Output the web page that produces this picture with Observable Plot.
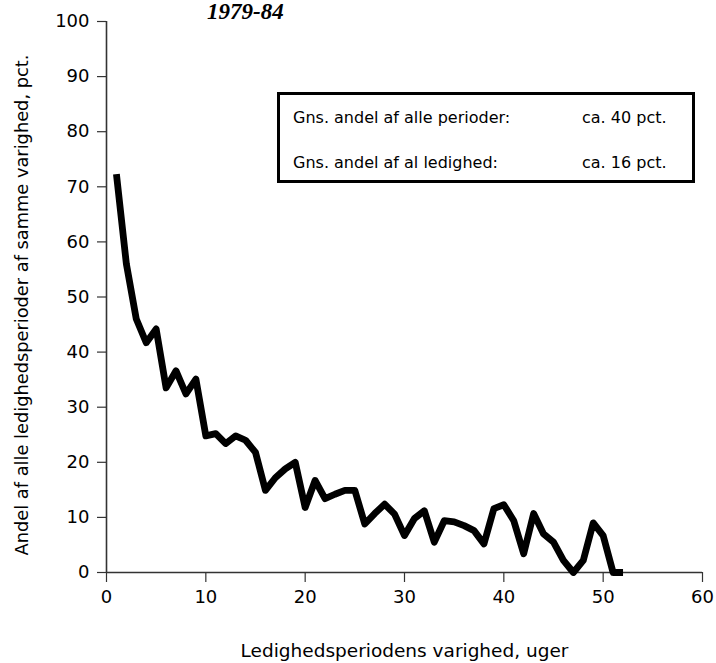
<!DOCTYPE html>
<html>
<head>
<meta charset="utf-8">
<script src="https://cdn.jsdelivr.net/npm/d3@7"></script>
<script src="https://cdn.jsdelivr.net/npm/@observablehq/plot@0.6"></script>
<style>
  html, body { margin: 0; padding: 0; background: #fff; }
  #wrap { position: relative; width: 716px; height: 663px; overflow: hidden; }
  #overlay { position: absolute; left: 0; top: 0; pointer-events: none; }
</style>
</head>
<body>
<div id="wrap"></div>
<script>
// ---- data ----
const title = "1979-84";
const xLabel = "Ledighedsperiodens varighed, uger";
const yLabel = "Andel af alle ledighedsperioder af samme varighed, pct.";
const legendLabels = ["Gns. andel af alle perioder:", "Gns. andel af al ledighed:"];
const legendValues = ["ca. 40 pct.", "ca. 16 pct."];
const xTicks = [0, 10, 20, 30, 40, 50, 60];
const yTicks = [0, 10, 20, 30, 40, 50, 60, 70, 80, 90, 100];
const weeks = [1, 2, 3, 4, 5, 6, 7, 8, 9, 10, 11, 12, 13, 14, 15, 16, 17, 18, 19, 20,
               21, 22, 23, 24, 25, 26, 27, 28, 29, 30, 31, 32, 33, 34, 35, 36, 37, 38, 39, 40,
               41, 42, 43, 44, 45, 46, 47, 48, 49, 50, 51, 52];
const shares = [72.3, 56, 46, 41.7, 44.2, 33.5, 36.6, 32.4, 35.1, 24.8,
                25.2, 23.4, 24.8, 24, 21.8, 14.9, 17.2, 18.8, 20, 11.8,
                16.7, 13.4, 14.2, 14.9, 14.9, 8.8, 10.7, 12.4, 10.6, 6.7,
                9.8, 11.2, 5.5, 9.4, 9.2, 8.5, 7.6, 5.2, 11.6, 12.3,
                9.4, 3.4, 10.7, 7, 5.5, 2.2, 0, 2.2, 9, 6.7,
                0, 0];

const rows = weeks.map((w, i) => ({week: w, share: shares[i]}));

const chart = Plot.plot({
  width: 716,
  height: 663,
  marginLeft: 106,
  marginRight: 14,
  marginTop: 21,
  marginBottom: 91,
  style: {fontFamily: "DejaVu Sans", fontSize: "18px", color: "#000", background: "#fff", overflow: "visible"},
  x: {domain: [0, 60]},
  y: {domain: [0, 100]},
  marks: [
    // ticks
    Plot.axisX({ticks: xTicks, tickSize: 10, tickPadding: 8, stroke: "#333", strokeWidth: 1.2,
                label: null, fontSize: 18}),
    Plot.axisY({ticks: yTicks, tickSize: 9, tickPadding: 8, stroke: "#333", strokeWidth: 1.2,
                label: null, fontSize: 18}),
    // axis titles
    Plot.axisX({ticks: [], tickSize: 0, label: xLabel, labelAnchor: "center", labelOffset: 84,
                labelArrow: false, fontSize: 18.5}),
    Plot.text([yLabel], {frameAnchor: "left", dx: -79, dy: 8, rotate: -90, textAnchor: "middle",
                         lineAnchor: "bottom", fontSize: 17.8, fill: "#000"}),
    Plot.ruleX([0], {stroke: "#333", strokeWidth: 1.6}),
    Plot.ruleY([0], {stroke: "#333", strokeWidth: 1.6}),
    Plot.line(rows, {x: "week", y: "share", stroke: "#000", strokeWidth: 6.8,
                     strokeLinejoin: "round", strokeLinecap: "butt"})
  ]
});

const wrap = document.getElementById("wrap");
wrap.appendChild(chart);

// overlay: title and legend box (annotation)
const svg = d3.select(wrap).append("svg")
  .attr("id", "overlay").attr("width", 716).attr("height", 663);

svg.append("text")
  .attr("x", 207).attr("y", 19)
  .attr("font-family", "Liberation Serif").attr("font-style", "italic").attr("font-weight", "bold")
  .attr("font-size", 23).attr("fill", "#000")
  .text(title);

svg.append("rect")
  .attr("x", 278.5).attr("y", 93.5).attr("width", 415).attr("height", 88)
  .attr("fill", "#fff").attr("stroke", "#000").attr("stroke-width", 3);

const lg = svg.append("g").attr("font-family", "DejaVu Sans").attr("font-size", 16).attr("fill", "#000");
legendLabels.forEach((t, i) => {
  lg.append("text").attr("x", 293).attr("y", 123 + i * 45).text(t);
  lg.append("text").attr("x", 582).attr("y", 123 + i * 45).text(legendValues[i]);
});
</script>
</body>
</html>
